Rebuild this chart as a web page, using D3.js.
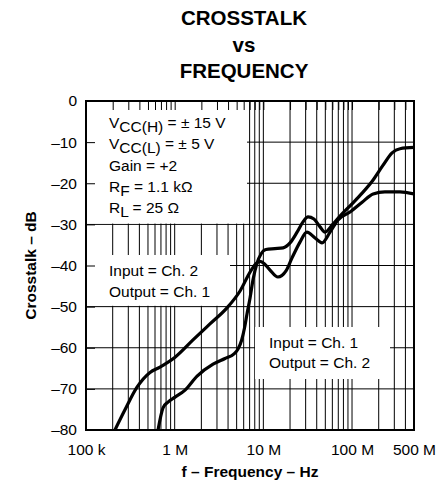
<!DOCTYPE html>
<html>
<head>
<meta charset="utf-8">
<script src="https://cdn.jsdelivr.net/npm/d3@7"></script>
<style>
  html, body { margin: 0; padding: 0; background: #fff; }
  svg { display: block; }
  text { font-family: "Liberation Sans", Arial, Helvetica, sans-serif; fill: #000; }
</style>
</head>
<body>
<script>
// ---------- data ----------
const title = ["CROSSTALK", "vs", "FREQUENCY"];
const xLabel = "f – Frequency – Hz";
const yLabel = "Crosstalk – dB";

const yTicks = [0, -10, -20, -30, -40, -50, -60, -70, -80];
const xTickValues = [1e5, 1e6, 1e7, 1e8, 5e8];
const xTickLabels = ["100 k", "1 M", "10 M", "100 M", "500 M"];

// Input = Ch. 2, Output = Ch. 1
const freqA = [2.12e5, 2.75e5, 3.73e5, 5.27e5, 6.83e5, 1.01e6, 1.61e6, 2.5e6, 3.89e6, 5.46e6,
  7.08e6, 8.2e6, 9.2e6, 1.05e7, 1.19e7, 1.46e7, 1.8e7, 2.1e7, 2.59e7, 3.1e7, 3.83e7, 4.59e7,
  5.65e7, 6.95e7, 9.5e7, 1.3e8, 1.73e8, 2.35e8, 3.48e8, 5e8];
const dbA = [-80, -75.1, -69.7, -66.0, -64.7, -62.3, -58.1, -54.2, -50.3, -46.2,
  -41.6, -39.6, -39.0, -39.8, -41.1, -42.8, -41.3, -38.2, -34.3, -31.9, -33.3, -34.5,
  -31.9, -28.9, -27.0, -24.6, -22.6, -22.1, -22.1, -22.6];

// Input = Ch. 1, Output = Ch. 2
const freqB = [6.49e5, 7.39e5, 8.41e5, 1.01e6, 1.31e6, 1.79e6, 2.71e6, 3.7e6, 4.67e6, 5.18e6,
  5.7e6, 6.13e6, 6.54e6, 7.08e6, 7.64e6, 8.49e6, 9.41e6, 1.07e7, 1.35e7, 1.67e7, 2.0e7,
  2.4e7, 2.8e7, 3.19e7, 3.72e7, 4.36e7, 4.96e7, 5.95e7, 7.32e7, 1.0e8, 1.3e8, 1.73e8,
  2.24e8, 2.83e8, 3.48e8, 5e8];
const dbB = [-80, -74.6, -73.2, -72.0, -70.3, -66.9, -64.0, -62.6, -61.5, -60.3,
  -58.1, -55.2, -51.8, -47.9, -43.5, -39.4, -37.2, -36.1, -35.9, -35.7, -34.5,
  -31.9, -29.4, -28.2, -28.7, -30.6, -31.9, -30.2, -28.0, -25.0, -22.4, -19.2,
  -15.6, -12.6, -11.6, -11.3];

const note1 = ["Input = Ch. 2", "Output = Ch. 1"];
const note2 = ["Input = Ch. 1", "Output = Ch. 2"];

// ---------- layout ----------
const W = 437, H = 483;
const L = 86, R = 414, T = 101, B = 430;
const FS = 15.5;

const svg = d3.select("body").append("svg").attr("width", W).attr("height", H);
svg.append("rect").attr("width", W).attr("height", H).attr("fill", "#fff");

const x = d3.scaleLog().domain([1e5, 5e8]).range([L, R]);
const y = d3.scaleLinear().domain([-80, 0]).range([B, T]);

// minor/major frequency grid values
const gridF = [];
for (let d = 1e5; d <= 1e8; d *= 10) {
  for (let m = 1; m <= 9; m++) {
    const v = m * d;
    if (v > 1e5 && v < 5e8) gridF.push(v);
  }
}

// grid lines
const grid = svg.append("g").attr("stroke", "#000").attr("stroke-width", 1);
grid.selectAll("line.v").data(gridF).join("line")
  .attr("x1", d => x(d)).attr("x2", d => x(d)).attr("y1", T).attr("y2", B);
grid.selectAll("line.h").data(yTicks.filter(v => v < 0 && v > -80)).join("line")
  .attr("x1", L).attr("x2", R).attr("y1", d => y(d)).attr("y2", d => y(d));

// white label boxes covering the grid
const boxes = [
  {x0: L, x1: 247, y0: T, y1: y(-30) - 0.8},
  {x0: L, x1: 230, y0: 255, y1: y(-50) - 0.8},
  {x0: 255, x1: 390, y0: 327, y1: 379}
];
svg.append("g").selectAll("rect").data(boxes).join("rect")
  .attr("x", d => d.x0).attr("y", d => d.y0)
  .attr("width", d => d.x1 - d.x0).attr("height", d => d.y1 - d.y0)
  .attr("fill", "#fff");

// inward ticks on top edge
const topAxis = d3.axisBottom(x).tickValues(gridF).tickSizeInner(9).tickSizeOuter(0).tickFormat("");
svg.append("g").attr("transform", `translate(0,${T})`).call(topAxis)
  .call(g => g.select(".domain").remove())
  .call(g => g.selectAll("line").attr("stroke", "#000"));

// left axis: inward ticks + labels
const leftAxis = d3.axisLeft(y).tickValues(yTicks).tickSizeInner(-9).tickSizeOuter(0)
  .tickPadding(9).tickFormat(d => d === 0 ? "0" : "–" + Math.abs(d));
svg.append("g").attr("transform", `translate(${L},0)`).call(leftAxis)
  .call(g => g.select(".domain").remove())
  .call(g => g.selectAll("line").attr("stroke", "#000"))
  .call(g => g.selectAll("text").attr("font-size", FS)
    .attr("font-family", "Liberation Sans, Arial, sans-serif"));

// bottom axis labels
const bottomAxis = d3.axisBottom(x).tickValues(xTickValues).tickSize(0).tickPadding(14)
  .tickFormat((d, i) => xTickLabels[i]);
svg.append("g").attr("transform", `translate(0,${B})`).call(bottomAxis)
  .call(g => g.select(".domain").remove())
  .call(g => g.selectAll("text").attr("font-size", FS)
    .attr("font-family", "Liberation Sans, Arial, sans-serif"));

// curves
const line = d3.line().x(d => x(d[0])).y(d => y(d[1])).curve(d3.curveMonotoneX);
const seriesA = freqA.map((f, i) => [f, dbA[i]]);
const seriesB = freqB.map((f, i) => [f, dbB[i]]);
svg.append("defs").append("clipPath").attr("id", "plot")
  .append("rect").attr("x", L).attr("y", T).attr("width", R - L).attr("height", B - T);
const curves = svg.append("g").attr("clip-path", "url(#plot)");
[seriesA, seriesB].forEach(s => {
  curves.append("path").datum(s).attr("d", line)
    .attr("fill", "none").attr("stroke", "#000").attr("stroke-width", 3.2)
    .attr("stroke-linejoin", "round").attr("stroke-linecap", "round");
});

// frame
svg.append("rect").attr("x", L).attr("y", T).attr("width", R - L).attr("height", B - T)
  .attr("fill", "none").attr("stroke", "#000").attr("stroke-width", 2);

// titles
svg.append("g").selectAll("text").data(title).join("text")
  .attr("x", 244).attr("y", (d, i) => 25 + i * 26.7)
  .attr("text-anchor", "middle").attr("font-weight", "bold").attr("font-size", 20.5)
  .text(d => d);

svg.append("text").attr("x", 250).attr("y", 476.5).attr("text-anchor", "middle")
  .attr("font-weight", "bold").attr("font-size", FS).text(xLabel);

svg.append("text").attr("transform", `translate(36,${(T + B) / 2}) rotate(-90)`)
  .attr("text-anchor", "middle").attr("font-weight", "bold").attr("font-size", FS).text(yLabel);

// condition box text
const cond = svg.append("g").attr("font-size", FS);
const condLines = [
  {main: "V", sub: "CC(H)", rest: " = ± 15 V"},
  {main: "V", sub: "CC(L)", rest: " = ± 5 V"},
  {main: "Gain = +2", sub: "", rest: ""},
  {main: "R", sub: "F", rest: " = 1.1 kΩ"},
  {main: "R", sub: "L", rest: " = 25 Ω"}
];
condLines.forEach((c, i) => {
  const t = cond.append("text").attr("x", 109).attr("y", 128 + i * 21.3);
  t.append("tspan").text(c.main);
  if (c.sub) {
    t.append("tspan").attr("dy", 4).text(c.sub);
    t.append("tspan").attr("dy", -4).text(c.rest);
  }
});

svg.append("g").attr("font-size", FS).selectAll("text").data(note1).join("text")
  .attr("x", 109).attr("y", (d, i) => 276 + i * 20.7).text(d => d);
svg.append("g").attr("font-size", FS).selectAll("text").data(note2).join("text")
  .attr("x", 269).attr("y", (d, i) => 347.7 + i * 20.7).text(d => d);
</script>
</body>
</html>
